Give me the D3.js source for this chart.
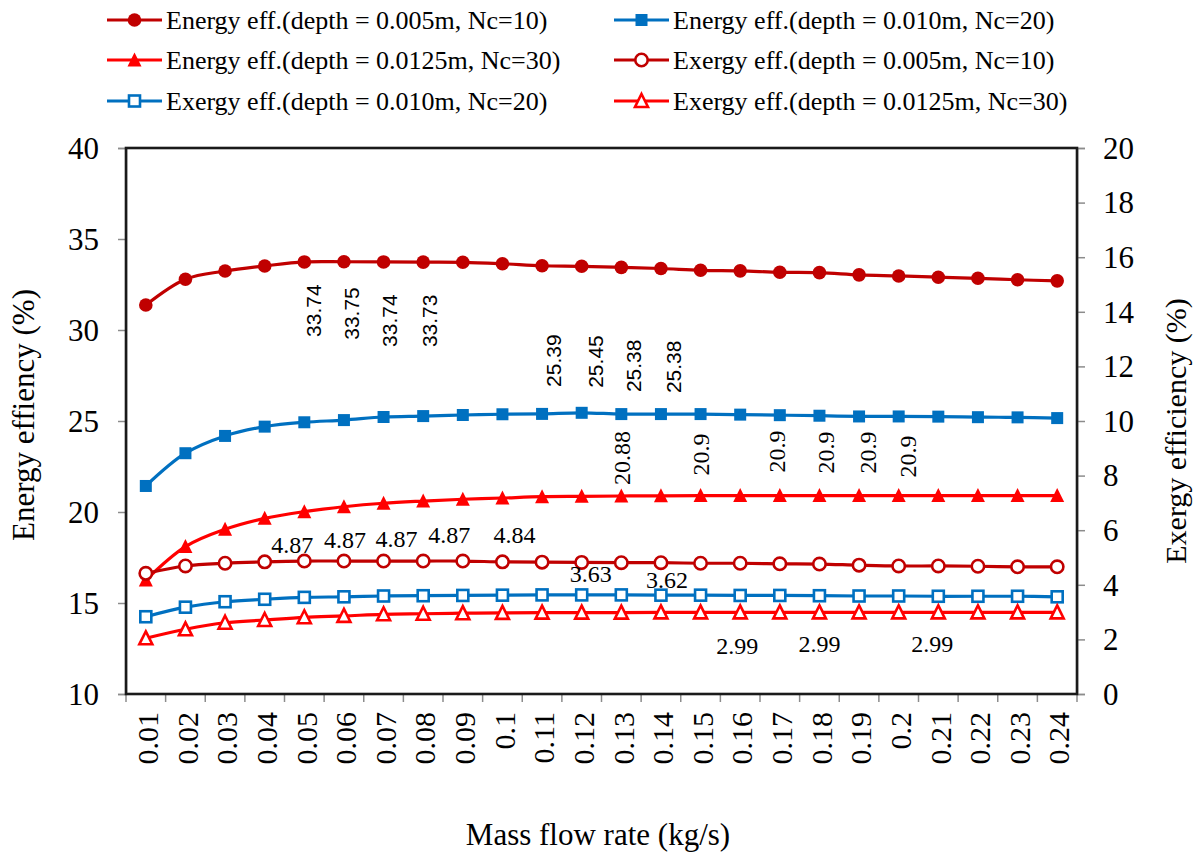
<!DOCTYPE html>
<html>
<head>
<meta charset="utf-8">
<script src="https://cdn.jsdelivr.net/npm/d3@7"></script>
<style>
  html, body { margin: 0; padding: 0; background: #fff; }
  svg { display: block; }
  svg text { font-family: "Liberation Serif", Tinos, "Times New Roman", "DejaVu Serif", serif; fill: #000; }
  svg text.sans { font-family: "Liberation Sans", Arimo, Arial, "DejaVu Sans", sans-serif; }
</style>
</head>
<body>
<svg id="chart" width="1198" height="857"></svg>
<script>
// Mass flow rate categories (kg/s)
const massFlow = ["0.01","0.02","0.03","0.04","0.05","0.06","0.07","0.08","0.09","0.1",
  "0.11","0.12","0.13","0.14","0.15","0.16","0.17","0.18","0.19","0.2",
  "0.21","0.22","0.23","0.24"];

// Energy efficiency (%) — left axis
const energy005 = [31.37, 32.79, 33.24, 33.52, 33.74, 33.75, 33.74, 33.73, 33.72, 33.64,
  33.53, 33.50, 33.44, 33.38, 33.28, 33.25, 33.17, 33.15, 33.03, 32.97,
  32.90, 32.84, 32.76, 32.70];
const energy010 = [21.43, 23.23, 24.18, 24.69, 24.93, 25.05, 25.22, 25.27, 25.33, 25.37,
  25.39, 25.45, 25.38, 25.38, 25.38, 25.35, 25.32, 25.29, 25.25, 25.25,
  25.24, 25.21, 25.20, 25.16];
const energy0125 = [16.26, 18.10, 19.05, 19.65, 20.02, 20.29, 20.48, 20.60, 20.70, 20.77,
  20.84, 20.86, 20.88, 20.89, 20.9, 20.9, 20.9, 20.9, 20.9, 20.9,
  20.9, 20.9, 20.9, 20.9];

// Exergy efficiency (%) — right axis
const exergy005 = [4.42, 4.69, 4.79, 4.84, 4.87, 4.87, 4.87, 4.87, 4.87, 4.84,
  4.83, 4.82, 4.81, 4.81, 4.79, 4.79, 4.77, 4.76, 4.72, 4.69,
  4.69, 4.68, 4.66, 4.66];
const exergy010 = [2.83, 3.18, 3.38, 3.47, 3.54, 3.56, 3.59, 3.60, 3.61, 3.62,
  3.63, 3.63, 3.63, 3.62, 3.62, 3.61, 3.61, 3.60, 3.59, 3.59,
  3.58, 3.58, 3.58, 3.56];
const exergy0125 = [2.04, 2.37, 2.61, 2.71, 2.81, 2.86, 2.92, 2.94, 2.96, 2.97,
  2.98, 2.98, 2.98, 2.99, 2.99, 2.99, 2.99, 2.99, 2.99, 2.99,
  2.99, 2.99, 2.99, 2.99];

// Axis ticks
const leftTicks = [10, 15, 20, 25, 30, 35, 40];
const rightTicks = [0, 2, 4, 6, 8, 10, 12, 14, 16, 18, 20];

// Which points carry a value label (indices into the series)
const labelsEnergy005 = [4, 5, 6, 7];
const labelsEnergy010 = [10, 11, 12, 13];
const labelsEnergy0125 = [12, 14, 16, 17, 18, 19];
const labelsExergy005 = [4, 5, 6, 7, 9];
const labelsExergy010 = [11, 13];
const labelsExergy0125 = [15, 17, 20];

const legendNames = [
  "Energy eff.(depth = 0.005m, Nc=10)",
  "Energy eff.(depth = 0.010m, Nc=20)",
  "Energy eff.(depth = 0.0125m, Nc=30)",
  "Exergy eff.(depth = 0.005m, Nc=10)",
  "Exergy eff.(depth = 0.010m, Nc=20)",
  "Exergy eff.(depth = 0.0125m, Nc=30)"
];

// ---- layout ----
const plot = { left: 126, right: 1077, top: 148, bottom: 694 };
const DARK_RED = "#C00000", BLUE = "#0070C0", RED = "#FF0000";

const svg = d3.select("#chart");

const x = d3.scaleBand().domain(massFlow).range([plot.left, plot.right]).padding(0);
const yL = d3.scaleLinear().domain([10, 40]).range([plot.bottom, plot.top]);
const yR = d3.scaleLinear().domain([0, 20]).range([plot.bottom, plot.top]);
const cx = d => x(d) + x.bandwidth() / 2;

// marker shapes
function drawMarker(g, kind, color, px, py) {
  const filled = kind.startsWith("f");
  const fill = filled ? color : "#fff";
  const sw = filled ? 0 : 2.6;
  if (kind.endsWith("circle")) {
    g.append("circle").attr("cx", px).attr("cy", py).attr("r", filled ? 6.8 : 6.2)
      .attr("fill", fill).attr("stroke", color).attr("stroke-width", sw);
  } else if (kind.endsWith("square")) {
    const s = filled ? 12 : 11;
    g.append("rect").attr("x", px - s / 2).attr("y", py - s / 2).attr("width", s).attr("height", s)
      .attr("fill", fill).attr("stroke", color).attr("stroke-width", sw);
  } else {
    const w = filled ? 14 : 13, h = filled ? 13 : 12;
    const pts = [[px, py - h / 2 - 1], [px + w / 2, py + h / 2], [px - w / 2, py + h / 2]];
    g.append("path").attr("d", "M" + pts.map(p => p.join(",")).join("L") + "Z")
      .attr("fill", fill).attr("stroke", color).attr("stroke-width", sw)
      .attr("stroke-linejoin", "miter");
  }
}

const series = [
  { values: energy005, y: yL, color: DARK_RED, marker: "fcircle" },
  { values: energy010, y: yL, color: BLUE, marker: "fsquare" },
  { values: energy0125, y: yL, color: RED, marker: "ftriangle" },
  { values: exergy005, y: yR, color: DARK_RED, marker: "ocircle" },
  { values: exergy010, y: yR, color: BLUE, marker: "osquare" },
  { values: exergy0125, y: yR, color: RED, marker: "otriangle" }
];

// ---- axes ----
const axisColor = "#8c8c8c";

function styleAxis(g) {
  g.attr("font-family", null).attr("font-size", null);
  g.select(".domain").attr("stroke", axisColor).attr("stroke-width", 1.5);
  g.selectAll(".tick line").attr("stroke", axisColor).attr("stroke-width", 1.5);
  g.selectAll(".tick text").attr("font-size", 31).attr("dy", "0.33em").attr("fill", "#000");
}

// left axis
const gL = svg.append("g").attr("transform", `translate(${plot.left},0)`)
  .call(d3.axisLeft(yL).tickValues(leftTicks).tickSize(8).tickPadding(19).tickFormat(d3.format("d")));
styleAxis(gL);

// right axis
const gR = svg.append("g").attr("transform", `translate(${plot.right},0)`)
  .call(d3.axisRight(yR).tickValues(rightTicks).tickSize(8).tickPadding(18).tickFormat(d3.format("d")));
styleAxis(gR);

// bottom axis: tick marks on category boundaries
const gB = svg.append("g").attr("transform", `translate(0,${plot.bottom})`);
gB.append("line").attr("x1", plot.left).attr("x2", plot.right).attr("y1", 0).attr("y2", 0)
  .attr("stroke", axisColor).attr("stroke-width", 1.5);
const bounds = massFlow.map(d => x(d)).concat([plot.right]);
gB.selectAll("line.tk").data(bounds).enter().append("line").attr("class", "tk")
  .attr("x1", d => d).attr("x2", d => d).attr("y1", 0).attr("y2", 8)
  .attr("stroke", axisColor).attr("stroke-width", 1.5);
gB.selectAll("text.cat").data(massFlow).enter().append("text").attr("class", "cat")
  .attr("transform", d => `translate(${cx(d) + 2},${18}) rotate(-90)`)
  .attr("text-anchor", "end").attr("dy", "0.34em")
  .attr("font-size", 30)
  .text(d => d);

// plot frame
svg.append("rect").attr("x", plot.left).attr("y", plot.top)
  .attr("width", plot.right - plot.left).attr("height", plot.bottom - plot.top)
  .attr("fill", "none").attr("stroke", "#1a1a1a").attr("stroke-width", 2.6);

// ---- series ----
const line = yS => d3.line().x((v, i) => cx(massFlow[i])).y(v => yS(v)).curve(d3.curveCatmullRom.alpha(0.5));
series.forEach(s => {
  const g = svg.append("g");
  g.append("path").datum(s.values).attr("d", line(s.y))
    .attr("fill", "none").attr("stroke", s.color).attr("stroke-width", 3.2);
  s.values.forEach((v, i) => drawMarker(g, s.marker, s.color, cx(massFlow[i]), s.y(v)));
});

// ---- value labels ----
const lab = svg.append("g");
function rotLabels(idx, vals, yS, nudges, cls, size) {
  idx.forEach((i, k) => {
    const [dx, dy] = nudges[k];
    lab.append("text").attr("class", cls)
      .attr("transform", `translate(${cx(massFlow[i]) + dx},${yS(vals[i]) + dy}) rotate(-90)`)
      .attr("text-anchor", "start").attr("font-size", size)
      .text(String(vals[i]));
  });
}
function flatLabels(idx, vals, yS, nudges, size) {
  idx.forEach((i, k) => {
    const [dx, dy] = nudges[k];
    lab.append("text")
      .attr("x", cx(massFlow[i]) + dx).attr("y", yS(vals[i]) + dy)
      .attr("text-anchor", "middle").attr("font-size", size)
      .text(String(vals[i]));
  });
}
rotLabels(labelsEnergy005, energy005, yL, [[17, 75], [15, 78], [13, 85], [13.5, 85]], "sans", 21);
rotLabels(labelsEnergy010, energy010, yL, [[19, -27], [21, -25], [20, -22], [20, -21]], "sans", 21);
rotLabels(labelsEnergy0125, energy0125, yL, [[9, -11], [8, -20], [5, -23], [15, -22], [17, -22], [17, -18]], "serif", 24);
flatLabels(labelsExergy005, exergy005, yR, [[-12, -8], [1, -13], [13, -14], [26, -18], [12, -19]], 24);
flatLabels(labelsExergy010, exergy010, yR, [[9, -13], [6, -7]], 24);
flatLabels(labelsExergy0125, exergy0125, yR, [[-3, 42], [0, 40], [-6, 40]], 24);

// ---- axis titles ----
const midY = (plot.top + plot.bottom) / 2;
svg.append("text").attr("transform", `translate(34,${midY - 6}) rotate(-90)`)
  .attr("text-anchor", "middle").attr("font-size", 31).text("Energy effiency (%)");
svg.append("text").attr("transform", `translate(1186,${midY + 10}) rotate(-90)`)
  .attr("text-anchor", "middle").attr("font-size", 30).text("Exergy efficiency (%)");
svg.append("text").attr("x", 598).attr("y", 845)
  .attr("text-anchor", "middle").attr("font-size", 31).text("Mass flow rate (kg/s)");

// ---- legend ----
const legendPos = [[107, 20], [614, 20], [107, 60], [614, 60], [107, 101], [614, 101]];
series.forEach((s, i) => {
  const [lx, ly] = legendPos[i];
  const g = svg.append("g");
  g.append("line").attr("x1", lx).attr("x2", lx + 55).attr("y1", ly).attr("y2", ly)
    .attr("stroke", s.color).attr("stroke-width", 3.2);
  drawMarker(g, s.marker, s.color, lx + 27.5, ly);
  g.append("text").attr("x", lx + 59).attr("y", ly).attr("dy", "0.33em")
    .attr("font-size", 26).text(legendNames[i]);
});
</script>
</body>
</html>
